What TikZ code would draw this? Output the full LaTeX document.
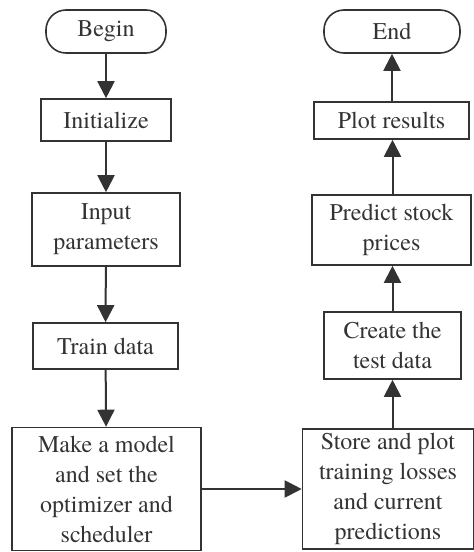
\documentclass[tikz,border=0pt]{standalone}
\usepackage{fontspec}
\setmainfont{texgyretermes}[Extension=.otf,UprightFont=*-regular,BoldFont=*-bold,ItalicFont=*-italic,BoldItalicFont=*-bolditalic]
\usetikzlibrary{arrows.meta}
\definecolor{ink}{HTML}{333333}
\begin{document}
\begin{tikzpicture}[x=1pt,y=-1pt,
  box/.style={draw=ink,line width=1.6pt,text=ink,inner sep=0pt,align=center,
    font=\rmfamily\fontsize{24}{30}\selectfont},
  term/.style={box,rounded corners=20pt},
  conn/.style={draw=ink,line width=2pt,-{Triangle[length=17pt,width=17pt]}}]
\useasboundingbox (0,0) rectangle (474,552);
\node[term,minimum width=120pt,minimum height=43pt] (begin) at (106,31.5) {Begin};
\node[box,minimum width=130pt,minimum height=42pt] (init) at (106,120) {Initialize};
\node[box,minimum width=148pt,minimum height=73pt] (input) at (106,229.5) {Input\\parameters};
\node[box,minimum width=145pt,minimum height=46pt] (train) at (105.5,346) {Train data};
\node[box,minimum width=189pt,minimum height=123pt] (make) at (106.5,489) {Make a model\\and set the\\optimizer and\\scheduler};
\node[box,minimum width=171pt,minimum height=120pt] (store) at (388,489) {Store and plot\\training losses\\and current\\predictions};
\node[box,minimum width=137pt,minimum height=67pt] (create) at (392.5,345.5) {Create the\\test data};
\node[box,minimum width=159pt,minimum height=70pt] (predict) at (391.5,230) {Predict stock\\prices};
\node[box,minimum width=155pt,minimum height=37pt] (plot) at (391.5,120.5) {Plot results};
\node[term,minimum width=136pt,minimum height=43pt] (end) at (392,31.5) {End};
\draw[conn] (begin) -- (init);
\draw[conn] (init) -- (input);
\draw[conn] (input) -- (train);
\draw[conn] (train) -- (make);
\draw[conn] (make) -- (store);
\draw[conn] (store.north -| create) -- (create);
\draw[conn] (create) -- (predict.south -| create);
\draw[conn] (predict.north -| create) -- (plot.south -| create);
\draw[conn] (plot.north -| end) -- (end);
\end{tikzpicture}
\end{document}
